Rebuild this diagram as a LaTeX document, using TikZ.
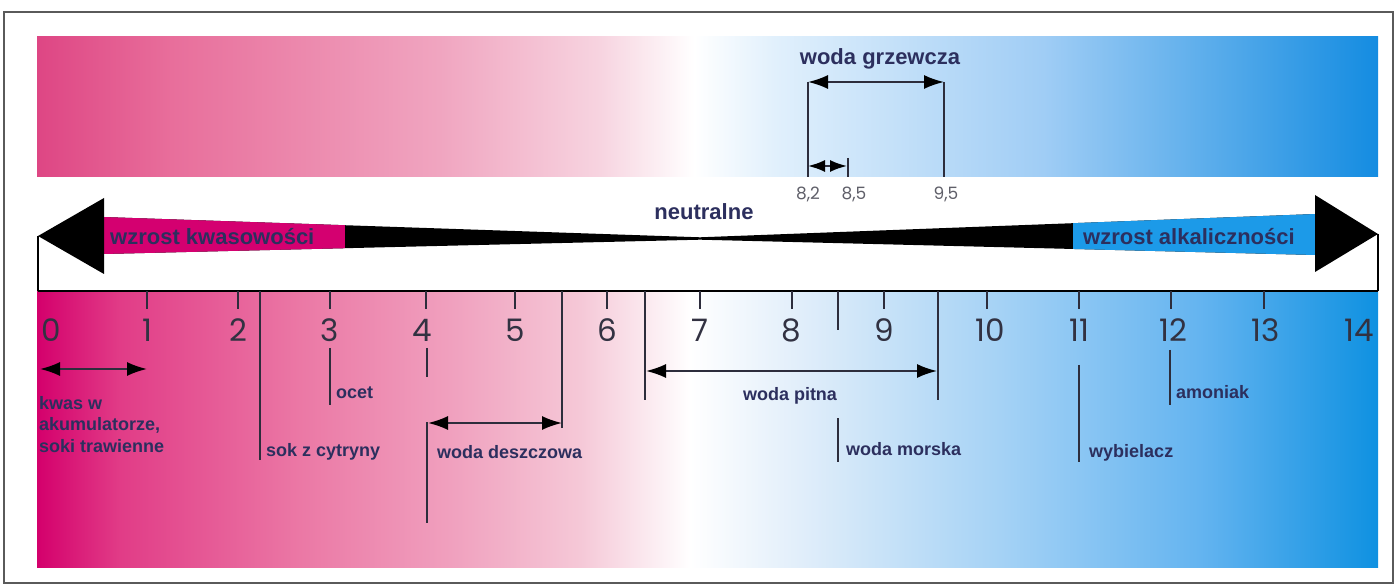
\documentclass[tikz,border=0pt]{standalone}
\usepackage{fontspec}
\setmainfont{Liberation Sans}
\newfontfamily\digfont{Poppins}
\usetikzlibrary{arrows.meta}
\definecolor{tb0}{RGB}{222,70,132}
\definecolor{tb1}{RGB}{232,110,155}
\definecolor{tb2}{RGB}{240,165,192}
\definecolor{tb3}{RGB}{247,212,224}
\definecolor{tb4}{RGB}{255,255,255}
\definecolor{tb5}{RGB}{225,240,252}
\definecolor{tb6}{RGB}{160,205,245}
\definecolor{tb7}{RGB}{20,140,225}
\definecolor{bb0}{RGB}{212,0,108}
\definecolor{bb1}{RGB}{225,60,135}
\definecolor{bb2}{RGB}{235,120,165}
\definecolor{bb3}{RGB}{240,160,190}
\definecolor{bb4}{RGB}{245,200,215}
\definecolor{bb5}{RGB}{255,255,255}
\definecolor{bb6}{RGB}{225,238,250}
\definecolor{bb7}{RGB}{165,210,245}
\definecolor{bb8}{RGB}{100,180,240}
\definecolor{bb9}{RGB}{15,145,225}
\definecolor{magbar}{RGB}{212,0,112}
\definecolor{bluebar}{RGB}{28,154,232}
\definecolor{txt}{RGB}{44,47,94}
\definecolor{dgt}{RGB}{50,50,66}
\definecolor{sdgt}{RGB}{95,95,105}
\definecolor{lnc}{RGB}{45,45,60}
\definecolor{frame}{RGB}{90,90,90}
\pgfdeclarehorizontalshading{topbar}{100bp}{color(0bp)=(tb0); color(25bp)=(tb0); color(30bp)=(tb1); color(40bp)=(tb2); color(46bp)=(tb3); color(49.5bp)=(tb4); color(52.5bp)=(tb5); color(62.5bp)=(tb6); color(75bp)=(tb7); color(100bp)=(tb7)}
\pgfdeclarehorizontalshading{botbar}{100bp}{color(0bp)=(bb0); color(25bp)=(bb0); color(28.1bp)=(bb1); color(34.8bp)=(bb2); color(40.4bp)=(bb3); color(45.25bp)=(bb4); color(49.35bp)=(bb5); color(53.45bp)=(bb6); color(60.9bp)=(bb7); color(68.35bp)=(bb8); color(75bp)=(bb9); color(100bp)=(bb9)}
\begin{document}
\begin{tikzpicture}[x=1pt,y=-1pt,
  lbl/.style={font=\bfseries\fontsize{18}{22}\selectfont, text=txt, inner sep=0pt},
  big/.style={font=\bfseries\fontsize{22}{26}\selectfont, text=txt, inner sep=0pt},
  dig/.style={font=\digfont\fontsize{31}{31}\selectfont, text=dgt, inner sep=0pt, anchor=base},
  sdig/.style={font=\digfont\fontsize{17}{17}\selectfont, text=sdgt, inner sep=0pt, anchor=base},
  ln/.style={draw=lnc, line width=1.9pt},
  dbl/.style={ln, {Latex[length=20pt,width=14pt,black]}-{Latex[length=20pt,width=14pt,black]}},
  sdbl/.style={ln, {Latex[length=17pt,width=12pt,black]}-{Latex[length=17pt,width=12pt,black]}}
]
\useasboundingbox (0,0) rectangle (1398,585);
\fill[white] (0,0) rectangle (1398,585);
\draw[frame, line width=1.3pt] (4,12) rectangle (1393,583);
% bars
\shade[shading=topbar] (37,37) rectangle (1378,177);
\shade[shading=botbar] (37,291) rectangle (1378,567);
% big arrow
\fill[black] (103,217) -- (700,237.3) -- (1316,214) -- (1316,255) -- (700,239.7) -- (103,254) -- cycle;
\begin{scope}
  \clip (103,217) -- (700,237.3) -- (1316,214) -- (1316,255) -- (700,239.7) -- (103,254) -- cycle;
  \fill[magbar] (103,200) rectangle (345,270);
  \fill[bluebar] (1073,200) rectangle (1316,270);
\end{scope}
\fill[black] (38,236) -- (104,198) -- (104,274) -- cycle;
\fill[black] (1378,234) -- (1315,195) -- (1315,272) -- cycle;
\node[big, anchor=base west] (kw) at (110,245) {wzrost kwasowości};
\node[big, anchor=base west] (al) at (1083,245) {wzrost alkaliczności};
\node[big, anchor=base] (neu) at (704,220) {neutralne};
% ruler frame
\coordinate (lt) at (38,236); \coordinate (lb) at (38,291);
\coordinate (rt) at (1378,234); \coordinate (rb) at (1378,291);
\draw[black, line width=1.2pt] (lt) -- (lb);
\draw[black, line width=1.2pt] (rt) -- (rb);
\draw[black, line width=2.6pt] (lb) -- (rb);
% ticks
\foreach \p/\x in {1/147,2/238,3/330,4/426,5/515,6/607,7/700,8/792,9/884,10/987,11/1079,12/1171,13/1264}{
  \coordinate (t\p a) at (\x,291); \coordinate (t\p b) at (\x,309);
  \draw[ln] (t\p a) -- (t\p b);
}
\foreach \p/\x in {0/51,1/147,2/238,3/330,4/422,5/515,6/607,7/700,8/791,9/884,10/990,11/1079,12/1173,13/1266,14/1359}{
  \node[dig] (n\p) at (\x,342) {\p};
}
% kwas
\coordinate (k1) at (40,369); \coordinate (k2) at (147,369);
\draw[dbl] (k1) -- (k2);
\node[lbl, anchor=north west, align=left, font=\bfseries\fontsize{18}{21.5}\selectfont] (kwas) at (39,396) {kwas w\\akumulatorze,\\soki trawienne};
% sok z cytryny
\coordinate (s1) at (260,291); \coordinate (s2) at (260,460);
\draw[ln] (s1) -- (s2);
\node[lbl, anchor=base west] (sok) at (266,456) {sok z cytryny};
% ocet
\coordinate (o1) at (330,348); \coordinate (o2) at (330,405);
\draw[ln] (o1) -- (o2);
\node[lbl, anchor=base west] (ocet) at (336,399) {ocet};
% 4 tick below
\coordinate (f1) at (427,348); \coordinate (f2) at (427,377);
\draw[ln] (f1) -- (f2);
% woda deszczowa
\coordinate (d1) at (562,291); \coordinate (d2) at (562,428);
\coordinate (d3) at (427,422); \coordinate (d4) at (427,523);
\coordinate (da) at (428,423); \coordinate (db) at (562,423);
\draw[ln] (d1) -- (d2);
\draw[ln] (d3) -- (d4);
\draw[dbl] (da) -- (db);
\node[lbl, anchor=base west] (desz) at (437,458) {woda deszczowa};
% woda pitna
\coordinate (p1) at (645,291); \coordinate (p2) at (645,400);
\coordinate (p3) at (938,291); \coordinate (p4) at (938,400);
\coordinate (pa) at (646,371); \coordinate (pb) at (937,371);
\draw[ln] (p1) -- (p2);
\draw[ln] (p3) -- (p4);
\draw[dbl] (pa) -- (pb);
\node[lbl, anchor=base] (pitna) at (790,400) {woda pitna};
% woda morska
\coordinate (m1) at (838,291); \coordinate (m2) at (838,330);
\coordinate (m3) at (838,418); \coordinate (m4) at (838,462);
\draw[ln] (m1) -- (m2);
\draw[ln] (m3) -- (m4);
\node[lbl, anchor=base west] (morska) at (846,455) {woda morska};
% wybielacz
\coordinate (w1) at (1079,365); \coordinate (w2) at (1079,462);
\draw[ln] (w1) -- (w2);
\node[lbl, anchor=base west] (wyb) at (1089,457) {wybielacz};
% amoniak
\coordinate (a1) at (1170,350); \coordinate (a2) at (1170,405);
\draw[ln] (a1) -- (a2);
\node[lbl, anchor=base west] (amo) at (1176,398) {amoniak};
% woda grzewcza
\node[big, anchor=base] (grz) at (880,65) {woda grzewcza};
\coordinate (g1) at (808,82); \coordinate (g2) at (808,177);
\coordinate (g3) at (944,82); \coordinate (g4) at (944,177);
\draw[ln] (g1) -- (g2);
\draw[ln] (g3) -- (g4);
\draw[dbl] (g1) -- (g3);
\coordinate (h1) at (808,166); \coordinate (h2) at (847,166);
\coordinate (h3) at (848,158); \coordinate (h4) at (848,177);
\draw[sdbl] (h1) -- (h2);
\draw[ln] (h3) -- (h4);
\node[sdig] (v82) at (808,200) {8,2};
\node[sdig] (v85) at (854,200) {8,5};
\node[sdig] (v95) at (946,200) {9,5};
\end{tikzpicture}
\end{document}
